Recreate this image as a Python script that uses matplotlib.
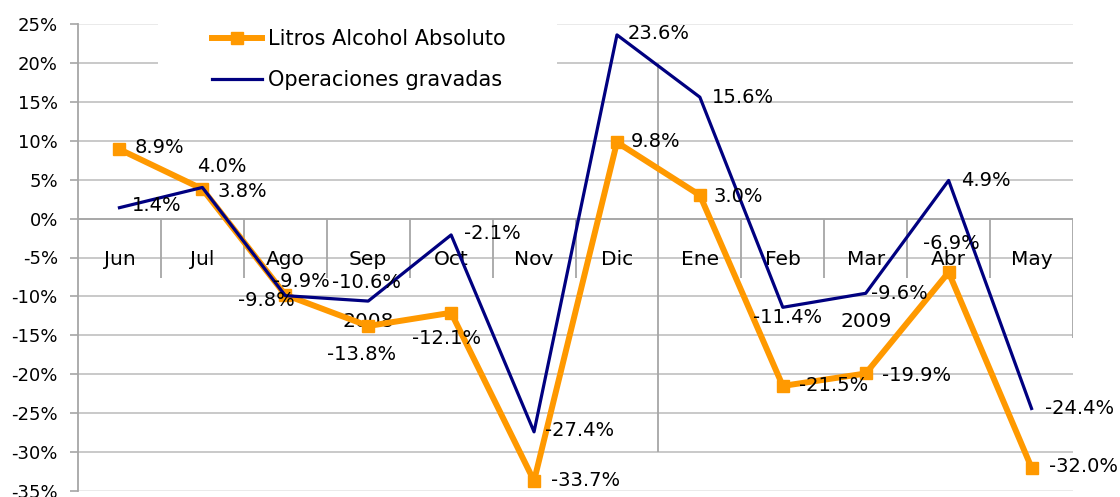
import numpy as np
import matplotlib
matplotlib.use('Agg')
import matplotlib.pyplot as plt
from matplotlib.patches import Rectangle

# Data
months = ['Jun', 'Jul', 'Ago', 'Sep', 'Oct', 'Nov', 'Dic',
          'Ene', 'Feb', 'Mar', 'Abr', 'May']
years = ['2008', '2009']
year_sizes = [7, 5]
litros = [8.9, 3.8, -9.8, -13.8, -12.1, -33.7, 9.8, 3.0, -21.5, -19.9, -6.9, -32.0]
operaciones = [1.4, 4.0, -9.9, -10.6, -2.1, -27.4, 23.6, 15.6, -11.4, -9.6, 4.9, -24.4]

# label offsets in pixels (dx, dy)
litros_off = [(40, 2), (40, -2), (-19, -6), (-7, -29), (-5, -26), (52, 0),
              (39, 1), (38, -1), (51, 0), (51, -2), (3, 29), (52, 1)]
oper_off = [(37, 2), (19, 21), (16, 14), (-2, 19), (41, 1), (46, 1),
            (42, 1), (43, 0), (5, -10), (34, 0), (37, 0), (48, 0)]

orange = '#FF9900'
navy = '#000080'
grid_c = '#C0C0C0'
axis_c = '#A6A6A6'

plt.rcParams['font.family'] = ['DejaVu Sans']

fig = plt.figure(figsize=(11.2, 4.97), dpi=100)
ax = fig.add_axes([78 / 1120, 6 / 497, (1073 - 78) / 1120, (491 - 24) / 497])
ax.set_xlim(-0.5, len(months) - 0.5)
ax.set_ylim(-35, 25)
ax.set_axisbelow(True)

x = np.arange(len(months))

# grid
yt = np.arange(-35, 26, 5)
for v in yt:
    c = '#E6E6E6' if v in (-35, 25) else grid_c
    ax.axhline(v, color=c, lw=1.2, zorder=0.5)
ax.axhline(0, color=axis_c, lw=1.3, zorder=0.6)

# category separators
for b in x[:-1] + 0.5:
    if b == 6.5:
        ax.vlines(b, -30, 20, color=axis_c, lw=1.3, zorder=0.6)
    else:
        ax.vlines(b, -7.6, 0, color=axis_c, lw=1.3, zorder=0.6)
ax.vlines(11.5, -15.3, 0, color=axis_c, lw=1.3, zorder=0.6)

for s in ['top', 'right', 'bottom']:
    ax.spines[s].set_visible(False)
ax.spines['left'].set_color(axis_c)
ax.spines['left'].set_linewidth(1.3)
ax.set_yticks(yt)
ax.set_yticklabels([f'{v}%' for v in yt])
ax.tick_params(axis='y', length=6, width=1.2, color=axis_c, labelsize=13, pad=8.5)
ax.set_xticks([])

# category labels
for i, m in enumerate(months):
    ax.text(i, -5.3, m, ha='center', va='center', fontsize=14.5)
start = 0
for yr, n in zip(years, year_sizes):
    ax.text(start + (n - 1) / 2, -13.2, yr, ha='center', va='center', fontsize=14.5)
    start += n

# legend background
fig.patches.append(Rectangle((158 / 1120, 1 - 97 / 497), (557 - 158) / 1120, 97 / 497,
                             transform=fig.transFigure, facecolor='white',
                             edgecolor='none', zorder=0.8))

l1, = ax.plot(x, litros, color=orange, lw=4.3, marker='s', markersize=8,
              label='Litros Alcohol Absoluto', zorder=3)
l2, = ax.plot(x, operaciones, color=navy, lw=2.3, label='Operaciones gravadas', zorder=4)

for xi, v, (dx, dy) in zip(x, litros, litros_off):
    ax.annotate(f'{v:.1f}%', (xi, v), xytext=(dx, dy), textcoords='offset pixels',
                ha='center', va='center', fontsize=14, zorder=5)
for xi, v, (dx, dy) in zip(x, operaciones, oper_off):
    ax.annotate(f'{v:.1f}%', (xi, v), xytext=(dx, dy), textcoords='offset pixels',
                ha='center', va='center', fontsize=14, zorder=5)

fig.legend(handles=[l1, l2], loc='upper left', bbox_to_anchor=(212 / 1120, 1 - 29 / 497),
           frameon=False, fontsize=15, borderpad=0, borderaxespad=0,
           handlelength=2.4, handletextpad=0.3, labelspacing=1.0)

fig.savefig('out.png', dpi=100)
